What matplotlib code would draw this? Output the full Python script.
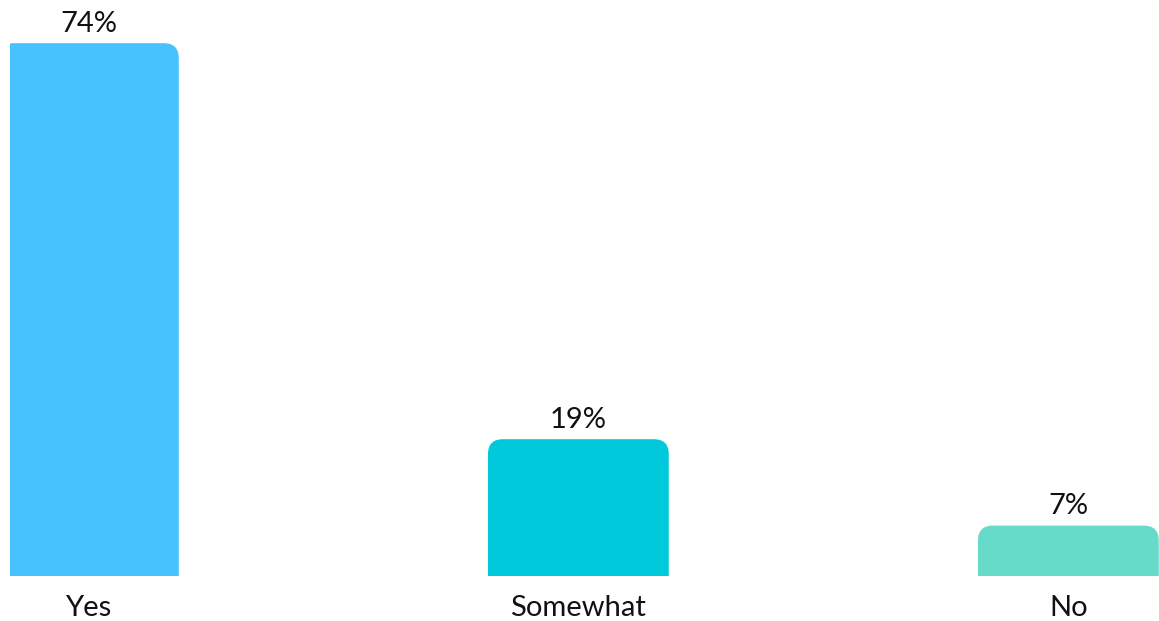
import matplotlib.pyplot as plt
from matplotlib.patches import FancyBboxPatch

categories = ["Yes", "Somewhat", "No"]
values = [74, 19, 7]
colors = ["#48C2FF", "#00C9DC", "#67DBC9"]

plt.rcParams["font.family"] = ["Lato", "DejaVu Sans"]

fig = plt.figure(figsize=(11.59, 6.21), dpi=100)
ax = fig.add_axes([10 / 1159, 45 / 621, 1149 / 1159, 576 / 621])

x = list(range(len(categories)))
width = 0.369
bars = ax.bar(x, values, width=width, color=colors)

ax.set_xlim(-0.160, 2.185)
ax.set_ylim(0, 80)

# swap the plain bars for ones with rounded top corners
px_x = 490.0   # pixels per x unit
px_y = 7.2     # pixels per y unit
r = 15 / px_x
for b, c in zip(bars, colors):
    b.set_visible(False)
    x0, w, h = b.get_x(), b.get_width(), b.get_height()
    patch = FancyBboxPatch((x0 + r, -5), w - 2 * r, h + 5 - r * px_x / px_y,
                           boxstyle=f"round,pad={r},rounding_size={r}",
                           mutation_aspect=px_x / px_y,
                           facecolor=c, edgecolor="none")
    ax.add_patch(patch)
    ax.text(b.get_x() + w / 2, h + 0.9, f"{h:.0f}%", ha="center", va="bottom",
            fontsize=21, color="#111111")

ax.set_xticks(x)
ax.set_xticklabels(categories, fontsize=21, color="#111111")
ax.tick_params(axis="x", length=0, pad=14)
ax.set_yticks([])
for s in ax.spines.values():
    s.set_visible(False)

fig.savefig("out.png", dpi=100)
